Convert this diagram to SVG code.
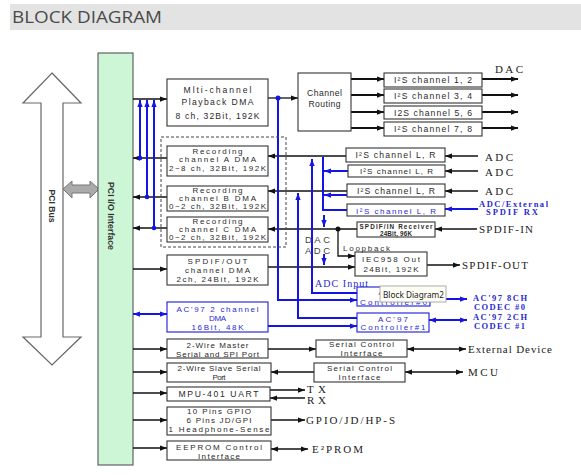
<svg xmlns="http://www.w3.org/2000/svg" width="581" height="475" viewBox="0 0 581 475">
<style>
.bt{font-family:"Liberation Sans",Arial,sans-serif;font-size:8px;fill:#2a2a2a;text-anchor:middle}
.lg{font-size:8.6px}
.bl{fill:#2a2ad0}
.sm{font-size:6.3px;font-weight:bold}
.sl{font-family:"Liberation Serif","Times New Roman",serif;font-size:11px;fill:#222}
.blb{font-family:"Liberation Serif","Times New Roman",serif;font-weight:bold;font-size:8.5px;fill:#2a2ad0}
.bx{fill:#fff;stroke:#333;stroke-width:1.1}
.bxb{fill:#fff;stroke:#1a1ad8;stroke-width:1.1}
.ln{fill:none;stroke:#111;stroke-width:1.3}
.th{stroke-width:2.2}
.lb{fill:none;stroke:#1414e6;stroke-width:2}
.dk{fill:#111}
.db{fill:#1414e6}
</style>
<defs>
<marker id="a" viewBox="0 0 8 6" refX="8" refY="3" markerWidth="7" markerHeight="5.5" markerUnits="userSpaceOnUse" orient="auto-start-reverse"><path d="M0,0L8,3L0,6z" fill="#111"/></marker>
<marker id="b" viewBox="0 0 8 6" refX="8" refY="3" markerWidth="7" markerHeight="6" markerUnits="userSpaceOnUse" orient="auto-start-reverse"><path d="M0,0L8,3L0,6z" fill="#1414e6"/></marker>
</defs>
<rect width="581" height="475" fill="#fff"/>
<g id="header">
<rect x="10" y="4" width="571" height="26" fill="#e3e3e3"/>
<text x="12" y="23" font-family="'Open Sans',Lato,sans-serif" font-size="16" fill="#4a4a4a" textLength="150" lengthAdjust="spacingAndGlyphs">BLOCK DIAGRAM</text>
</g>
<g id="pci-bus">
<polygon points="52,73 81,103 63,103 63,337 81,337 52,365 23,337 41,337 41,103 23,103" fill="#fff" stroke="#666" stroke-width="1.2"/>
<text transform="translate(49,206) rotate(90)" font-family="'Liberation Sans',Arial,sans-serif" font-weight="bold" font-size="9.5" fill="#333" text-anchor="middle" textLength="33" lengthAdjust="spacingAndGlyphs">PCI Bus</text>
</g>
<g id="bus-link">
<polygon points="63,189 72,181 72,185 90,185 90,181 99,189 90,198 90,193 72,193 72,198" fill="#aaa" stroke="#777" stroke-width="1"/>
</g>
<g id="pci-io">
<rect x="98" y="53" width="35" height="412" fill="#ccf6d6" stroke="#555" stroke-width="1.1"/>
<text transform="translate(108,216) rotate(90)" font-family="'Liberation Sans',Arial,sans-serif" font-weight="bold" font-size="9.5" fill="#333" text-anchor="middle" textLength="68" lengthAdjust="spacingAndGlyphs">PCI I/O Interface</text>
</g>

<g id="connectors">
<path class="ln" d="M133,99H167" marker-end="url(#a)"/>
<path class="ln" d="M167,158H133" marker-end="url(#a)"/>
<path class="ln" d="M167,197H133" marker-end="url(#a)"/>
<path class="ln" d="M167,228H133" marker-end="url(#a)"/>
<path class="ln" d="M133,269H167" marker-end="url(#a)"/>
<path class="lb" d="M133,314H167" marker-start="url(#b)" marker-end="url(#b)"/>
<path class="ln" d="M133,349H167" marker-end="url(#a)"/>
<path class="ln" d="M133,372H167" marker-end="url(#a)"/>
<path class="ln" d="M133,393H167" marker-end="url(#a)"/>
<path class="ln" d="M133,420H167" marker-end="url(#a)"/>
<path class="ln" d="M133,448H167" marker-end="url(#a)"/>
<path class="lb" d="M140,158V100" marker-end="url(#b)"/>
<path class="lb" d="M147,197V100" marker-end="url(#b)"/>
<path class="lb" d="M154,228V100" marker-end="url(#b)"/>
<circle class="db" cx="140" cy="158" r="2.3"/>
<circle class="db" cx="147" cy="197" r="2.3"/>
<circle class="db" cx="154" cy="228" r="2.3"/>
<path class="ln" d="M268,98H298" marker-end="url(#a)"/>
<path class="ln th" d="M351,79H384" marker-end="url(#a)"/>
<path class="ln th" d="M351,95H384" marker-end="url(#a)"/>
<path class="ln th" d="M351,112H384" marker-end="url(#a)"/>
<path class="ln th" d="M351,128H384" marker-end="url(#a)"/>
<path class="ln th" d="M482,79H518" marker-end="url(#a)"/>
<path class="ln th" d="M482,95H518" marker-end="url(#a)"/>
<path class="ln th" d="M482,112H518" marker-end="url(#a)"/>
<path class="ln th" d="M482,128H518" marker-end="url(#a)"/>
<path class="ln" d="M478,156H445" marker-end="url(#a)"/>
<path class="ln" d="M478,171H445" marker-end="url(#a)"/>
<path class="ln" d="M478,191H445" marker-end="url(#a)"/>
<path class="lb" d="M478,209H445" marker-end="url(#b)"/>
<path class="ln" d="M477,229H435" marker-end="url(#a)"/>
<path class="ln" d="M346,156H268" marker-end="url(#a)"/>
<path class="ln" d="M347,191H268" marker-end="url(#a)"/>
<path class="ln" d="M357,229H268" marker-end="url(#a)"/>
<path class="ln" d="M338,229V256H355" marker-end="url(#a)"/>
<circle class="dk" cx="338" cy="229" r="2.5"/>
<path class="ln" d="M268,267H355" marker-end="url(#a)"/>
<path class="ln" d="M427,265H460" marker-end="url(#a)"/>
<path class="lb" d="M278,98V300H357" marker-end="url(#b)"/>
<circle class="db" cx="278" cy="98" r="2.5"/>
<path class="lb" d="M357,293H312V159" marker-end="url(#b)"/>
<path class="lb" d="M357,318H298V193" marker-end="url(#b)"/>
<path class="lb" d="M323,157V210H347"/>
<path class="lb" d="M348,171H324" marker-end="url(#b)"/>
<path class="lb" d="M347,195H324" marker-end="url(#b)"/>
<path class="lb" d="M324,215V227" marker-end="url(#b)"/>
<path class="lb" d="M324,254V265" marker-end="url(#b)"/>
<path class="lb" d="M268,326H357" marker-end="url(#b)"/>
<path class="lb" d="M430,299H467" marker-start="url(#b)" marker-end="url(#b)"/>
<path class="lb" d="M429,320H467" marker-start="url(#b)" marker-end="url(#b)"/>
<path class="ln" d="M268,349H316" marker-end="url(#a)"/>
<path class="ln" d="M314,372H271" marker-end="url(#a)"/>
<path class="ln" d="M407,349H466" marker-start="url(#a)" marker-end="url(#a)"/>
<path class="ln" d="M405,372H463" marker-start="url(#a)" marker-end="url(#a)"/>
<path class="ln" d="M270,390H305" marker-end="url(#a)"/>
<path class="ln" d="M305,398H270" marker-end="url(#a)"/>
<path class="ln" d="M271,420H305" marker-end="url(#a)"/>
<path class="ln" d="M271,449H308" marker-start="url(#a)" marker-end="url(#a)"/>
</g>

<g id="recording-group">
<rect x="161" y="137" width="125" height="110" fill="none" stroke="#444" stroke-width="1" stroke-dasharray="3,2"/>
</g>
<g id="playback-dma">
<rect class="bx" x="167" y="79" width="101" height="47"/>
<text class="bt lg" x="217.5" y="93" textLength="68" lengthAdjust="spacing">Mlti-channel</text>
<text class="bt lg" x="217.5" y="105" textLength="72" lengthAdjust="spacing">Playback DMA</text>
<text class="bt lg" x="217.5" y="119" textLength="84" lengthAdjust="spacing">8 ch, 32Bit, 192K</text>
</g>
<g id="channel-routing">
<rect class="bx" x="298" y="73" width="53" height="58"/>
<text class="bt lg" x="324.5" y="96" textLength="35" lengthAdjust="spacing">Channel</text>
<text class="bt lg" x="324.5" y="107" textLength="32" lengthAdjust="spacing">Routing</text>
</g>
<g id="rec-a">
<rect class="bx" x="167" y="146" width="101" height="30"/>
<text class="bt" x="217.5" y="153.5" textLength="50" lengthAdjust="spacing">Recording</text>
<text class="bt" x="217.5" y="162" textLength="77" lengthAdjust="spacing">channel A DMA</text>
<text class="bt" x="217.5" y="171" textLength="97" lengthAdjust="spacing">2~8 ch, 32Bit, 192K</text>
</g>
<g id="rec-b">
<rect class="bx" x="167" y="186" width="101" height="25"/>
<text class="bt" x="217.5" y="193" textLength="50" lengthAdjust="spacing">Recording</text>
<text class="bt" x="217.5" y="200.5" textLength="77" lengthAdjust="spacing">channel B DMA</text>
<text class="bt" x="217.5" y="209" textLength="97" lengthAdjust="spacing">0~2 ch, 32Bit, 192K</text>
</g>
<g id="rec-c">
<rect class="bx" x="167" y="217" width="101" height="25"/>
<text class="bt" x="217.5" y="224" textLength="50" lengthAdjust="spacing">Recording</text>
<text class="bt" x="217.5" y="231.5" textLength="77" lengthAdjust="spacing">channel C DMA</text>
<text class="bt" x="217.5" y="240" textLength="97" lengthAdjust="spacing">0~2 ch, 32Bit, 192K</text>
</g>
<g id="spdif-out-dma">
<rect class="bx" x="167" y="255" width="101" height="30"/>
<text class="bt" x="217.5" y="264" textLength="60" lengthAdjust="spacing">SPDIF/OUT</text>
<text class="bt" x="217.5" y="272.5" textLength="65" lengthAdjust="spacing">channel DMA</text>
<text class="bt" x="217.5" y="282" textLength="82" lengthAdjust="spacing">2ch, 24Bit, 192K</text>
</g>
<g id="ac97-dma">
<rect class="bxb" x="167" y="302" width="101" height="30"/>
<text class="bt bl" x="217.5" y="312" textLength="82" lengthAdjust="spacing">AC'97 2 channel</text>
<text class="bt bl" x="217.5" y="321" textLength="17" lengthAdjust="spacing">DMA</text>
<text class="bt bl" x="217.5" y="330" textLength="52" lengthAdjust="spacing">16Bit, 48K</text>
</g>
<g id="two-wire-master">
<rect class="bx" x="167" y="339" width="101" height="19"/>
<text class="bt" x="217.5" y="348" textLength="62" lengthAdjust="spacing">2-Wire Master</text>
<text class="bt" x="217.5" y="356.5" textLength="83" lengthAdjust="spacing">Serial and SPI Port</text>
</g>
<g id="two-wire-slave">
<rect class="bx" x="167" y="363" width="104" height="19"/>
<text class="bt" x="219" y="371" textLength="83" lengthAdjust="spacing">2-Wire Slave Serial</text>
<text class="bt" x="219" y="380" textLength="13" lengthAdjust="spacing">Port</text>
</g>
<g id="mpu-uart">
<rect class="bx" x="167" y="387" width="103" height="14"/>
<text class="bt lg" x="218.5" y="397" textLength="80" lengthAdjust="spacing">MPU-401 UART</text>
</g>
<g id="gpio">
<rect class="bx" x="167" y="407" width="104" height="28"/>
<text class="bt" x="219" y="414" textLength="64" lengthAdjust="spacing">10 Pins GPIO</text>
<text class="bt" x="219" y="423" textLength="65" lengthAdjust="spacing">6 Pins JD/GPI</text>
<text class="bt" x="219" y="432" textLength="101" lengthAdjust="spacing">1 Headphone-Sense</text>
</g>
<g id="eeprom">
<rect class="bx" x="167" y="441" width="104" height="19"/>
<text class="bt" x="219" y="450" textLength="86" lengthAdjust="spacing">EEPROM Control</text>
<text class="bt" x="219" y="458.5" textLength="42" lengthAdjust="spacing">Interface</text>
</g>
<g id="i2s-12">
<rect class="bx" x="384" y="73" width="98" height="14"/>
<text class="bt lg" x="433" y="83" textLength="78" lengthAdjust="spacing">I²S channel 1, 2</text>
</g>
<g id="i2s-34">
<rect class="bx" x="384" y="89" width="98" height="14"/>
<text class="bt lg" x="433" y="99" textLength="78" lengthAdjust="spacing">I²S channel 3, 4</text>
</g>
<g id="i2s-56">
<rect class="bx" x="384" y="106" width="98" height="13"/>
<text class="bt lg" x="433" y="115.5" textLength="78" lengthAdjust="spacing">I2S channel 5, 6</text>
</g>
<g id="i2s-78">
<rect class="bx" x="384" y="122" width="98" height="14"/>
<text class="bt lg" x="433" y="132" textLength="78" lengthAdjust="spacing">I²S channel 7, 8</text>
</g>
<g id="i2s-lr-1">
<rect class="bx" x="346" y="148" width="99" height="14"/>
<text class="bt lg" x="395.5" y="158" textLength="80" lengthAdjust="spacing">I²S channel L, R</text>
</g>
<g id="i2s-lr-2">
<rect class="bx" x="348" y="165" width="97" height="12"/>
<text class="bt" x="396.5" y="174" textLength="73" lengthAdjust="spacing">I²S channel L, R</text>
</g>
<g id="i2s-lr-3">
<rect class="bx" x="347" y="184" width="98" height="13"/>
<text class="bt lg" x="396" y="193.5" textLength="78" lengthAdjust="spacing">I²S channel L, R</text>
</g>
<g id="i2s-lr-4">
<rect class="bx" x="347" y="204" width="98" height="12"/>
<text class="bt bl" x="396" y="213.5" textLength="80" lengthAdjust="spacing">I²S channel L, R</text>
</g>
<g id="spdif-in-receiver">
<rect class="bx" x="357" y="222" width="78" height="15"/>
<text class="bt sm" x="396" y="228.5" textLength="73" lengthAdjust="spacing">SPDIF/IN Receiver</text>
<text class="bt sm" x="396" y="235.5" textLength="32" lengthAdjust="spacing">24Bit, 96K</text>
</g>
<g id="iec958-out">
<rect class="bx" x="355" y="252" width="72" height="24"/>
<text class="bt" x="391" y="261.5" textLength="58" lengthAdjust="spacing">IEC958 Out</text>
<text class="bt" x="391" y="271.5" textLength="55" lengthAdjust="spacing">24Bit, 192K</text>
</g>
<g id="ac97-controller-0">
<rect class="bxb" x="357" y="287" width="73" height="19"/>
<text class="bt bl" x="393.5" y="295" textLength="30" lengthAdjust="spacing">AC'97</text>
<text class="bt bl" x="393.5" y="304.5" textLength="67" lengthAdjust="spacing">Controller#0</text>
</g>
<g id="ac97-controller-1">
<rect class="bxb" x="357" y="313" width="72" height="19"/>
<text class="bt bl" x="393" y="321.5" textLength="30" lengthAdjust="spacing">AC'97</text>
<text class="bt bl" x="393" y="330" textLength="65" lengthAdjust="spacing">Controller#1</text>
</g>
<g id="serial-control-1">
<rect class="bx" x="316" y="340" width="91" height="17"/>
<text class="bt" x="361.5" y="347" textLength="65" lengthAdjust="spacing">Serial Control</text>
<text class="bt" x="361.5" y="355.5" textLength="42" lengthAdjust="spacing">Interface</text>
</g>
<g id="serial-control-2">
<rect class="bx" x="314" y="363" width="91" height="19"/>
<text class="bt" x="359.5" y="370.5" textLength="65" lengthAdjust="spacing">Serial Control</text>
<text class="bt" x="359.5" y="380" textLength="42" lengthAdjust="spacing">Interface</text>
</g>

<g id="labels">
<text class="sl" x="495" y="73" textLength="28" lengthAdjust="spacing">DAC</text>
<text class="sl" x="485" y="161" textLength="28" lengthAdjust="spacing">ADC</text>
<text class="sl" x="485" y="176" textLength="28" lengthAdjust="spacing">ADC</text>
<text class="sl" x="485" y="195" textLength="28" lengthAdjust="spacing">ADC</text>
<text class="blb" x="479" y="206.5" font-size="9" textLength="69" lengthAdjust="spacing">ADC/External</text>
<text class="blb" x="486" y="215" font-size="9" textLength="52" lengthAdjust="spacing">SPDIF RX</text>
<text class="sl" x="479" y="232.5" textLength="54" lengthAdjust="spacing">SPDIF-IN</text>
<text class="sl" x="462" y="268.5" textLength="66" lengthAdjust="spacing">SPDIF-OUT</text>
<text x="305" y="242.5" font-family="'Liberation Sans',Arial,sans-serif" font-size="9.5" fill="#444" textLength="25" lengthAdjust="spacing">DAC</text>
<text x="305" y="253.5" font-family="'Liberation Sans',Arial,sans-serif" font-size="9.5" fill="#444" textLength="25" lengthAdjust="spacing">ADC</text>
<text x="343" y="251" font-family="'Liberation Sans',Arial,sans-serif" font-size="8" fill="#333" textLength="47" lengthAdjust="spacing">Loopback</text>
<text x="315" y="286.5" font-family="'Liberation Serif','Times New Roman',serif" font-size="10" fill="#2a2ad0" textLength="53" lengthAdjust="spacing">ADC Input</text>
<text class="blb" x="473" y="301" textLength="54" lengthAdjust="spacing">AC'97 8CH</text>
<text class="blb" x="474" y="310" textLength="51" lengthAdjust="spacing">CODEC #0</text>
<text class="blb" x="473" y="320" textLength="54" lengthAdjust="spacing">AC'97 2CH</text>
<text class="blb" x="474" y="329" textLength="51" lengthAdjust="spacing">CODEC #1</text>
<text class="sl" x="468" y="353" textLength="84" lengthAdjust="spacing">External Device</text>
<text class="sl" x="468" y="376" textLength="30" lengthAdjust="spacing">MCU</text>
<text class="sl" x="307" y="392.5" font-size="9" textLength="19" lengthAdjust="spacing">TX</text>
<text class="sl" x="307" y="403.5" font-size="9" textLength="19" lengthAdjust="spacing">RX</text>
<text class="sl" x="306" y="424" textLength="89" lengthAdjust="spacing">GPIO/JD/HP-S</text>
<text class="sl" x="312" y="453" textLength="51" lengthAdjust="spacing">E²PROM</text>
</g>
<g id="tooltip">
<rect x="380" y="286" width="66" height="16" fill="#fdfdf6" stroke="#9a9a9a" stroke-width="0.8"/>
<text x="383" y="297.5" font-family="'Noto Sans','Liberation Sans',sans-serif" font-size="9" fill="#222" textLength="61" lengthAdjust="spacingAndGlyphs">Block Diagram2</text>
</g>
</svg>
